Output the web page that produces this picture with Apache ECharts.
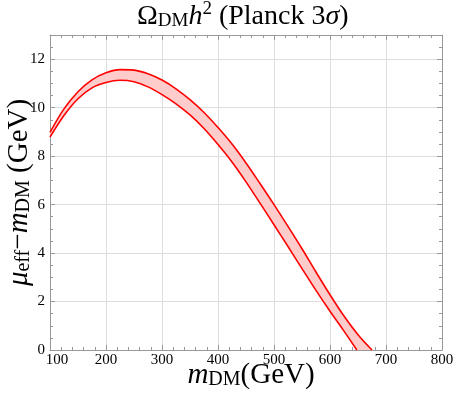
<!DOCTYPE html>
<html><head><meta charset="utf-8">
<script src="https://cdn.jsdelivr.net/npm/echarts@6/dist/echarts.min.js"></script>
<style>html,body{margin:0;padding:0;background:#fff}#c{width:463px;height:399px}</style>
</head><body><div id="c"></div>
<script>
// Upper boundary of the Planck 3σ band
const upperX = [100,125,150,175,200,225,250,275,300,325,350,375,400,425,450,475,500,525,550,575,600,625,650,675];
const upperY = [8.98,9.95,10.66,11.15,11.44,11.57,11.55,11.40,11.14,10.78,10.33,9.80,9.18,8.50,7.72,6.87,6.00,5.10,4.18,3.22,2.28,1.40,0.63,0];
// Lower boundary
const lowerX = [100,125,150,175,200,225,250,275,300,325,350,375,400,425,450,475,500,525,550,575,600,625,648];
const lowerY = [8.79,9.68,10.37,10.82,11.04,11.13,11.07,10.86,10.54,10.16,9.70,9.14,8.48,7.76,6.94,6.06,5.17,4.27,3.36,2.46,1.60,0.78,0];
const xRange = [100, 800];
const yRange = [0, 13];

const FONT = '"Liberation Serif","DejaVu Serif",serif';
const frame = '#999';
const tickStyle = {inside:true, length:5, lineStyle:{color:frame}};
const minorX = {show:true, splitNumber:5, length:3, lineStyle:{color:frame}};
const minorY = {show:true, splitNumber:4, length:3, lineStyle:{color:frame}};

function richSet(size){
  const sub = Math.round(size * 0.68);
  return {
    o:{fontFamily:FONT, fontSize:size, fontWeight:'normal', color:'#000', lineHeight:size+3, verticalAlign:'bottom'},
    i:{fontFamily:FONT, fontSize:size, fontWeight:'normal', fontStyle:'italic', color:'#000', lineHeight:size+3, verticalAlign:'bottom'},
    s:{fontFamily:FONT, fontSize:sub, fontWeight:'normal', color:'#000', lineHeight:sub-4, verticalAlign:'bottom'},
    p:{fontFamily:FONT, fontSize:sub, fontWeight:'normal', color:'#000', verticalAlign:'bottom', padding:[0,0,Math.round(size*0.42),0]}
  };
}

const chart = echarts.init(document.getElementById('c'), null, {renderer:'canvas'});
chart.setOption({
  animation:false,
  backgroundColor:'#fff',
  title:{
    text:'{o|Ω}{s|DM}{i|h}{p|2}{o| (Planck 3}{i|σ}{o|)}',
    left:137, top:0, padding:0,
    textStyle:{fontWeight:'normal', rich:richSet(28)}
  },
  grid:{left:50, right:21, top:35, bottom:49, containLabel:false, outerBoundsMode:'none'},
  xAxis:[{
    type:'value', min:xRange[0], max:xRange[1], interval:100, position:'bottom',
    axisLine:{show:true, onZero:false, lineStyle:{color:frame}},
    axisTick:tickStyle, minorTick:minorX,
    splitLine:{show:true, lineStyle:{color:'#ddd'}},
    axisLabel:{fontFamily:FONT, fontSize:15, color:'#000', margin:3,
      formatter:v => v === 100 ? '{f|100}' : String(v),
      rich:{f:{fontFamily:FONT, fontSize:15, color:'#000', padding:[0,0,0,14]}}},
    name:'{i|m}{s|DM}{o|(GeV)}', nameLocation:'middle', nameGap:8, nameMoveOverlap:false,
    nameTextStyle:{rich:richSet(29), padding:[0,0,0,10]}
  },{
    type:'value', min:xRange[0], max:xRange[1], interval:100, position:'top',
    axisLine:{show:true, onZero:false, lineStyle:{color:frame}},
    axisTick:tickStyle, minorTick:minorX,
    splitLine:{show:false}, axisLabel:{show:false}
  }],
  yAxis:[{
    type:'value', min:yRange[0], max:yRange[1], interval:2, position:'left',
    axisLine:{show:true, onZero:false, lineStyle:{color:frame}},
    axisTick:tickStyle, minorTick:minorY,
    splitLine:{show:true, lineStyle:{color:'#ddd'}},
    axisLabel:{fontFamily:FONT, fontSize:15, color:'#000', margin:5,
      formatter:v => v > 12 ? '' : String(v)},
    name:'{i|μ}{s|eff}{o|−}{i|m}{s|DM}{o| (GeV)}', nameLocation:'middle', nameGap:16, nameRotate:90, nameMoveOverlap:false,
    nameTextStyle:{rich:richSet(29)}
  },{
    type:'value', min:yRange[0], max:yRange[1], interval:2, position:'right',
    axisLine:{show:true, onZero:false, lineStyle:{color:frame}},
    axisTick:tickStyle, minorTick:minorY,
    splitLine:{show:false}, axisLabel:{show:false}
  }],
  series:[{
    type:'custom', coordinateSystem:'cartesian2d', xAxisIndex:0, yAxisIndex:0,
    clip:true, silent:true, z:1,
    data:[[upperX[0], upperY[0]]],
    renderItem:function(params, api){
      const pts = [];
      for (let k = 0; k < upperX.length; k++) pts.push(api.coord([upperX[k], upperY[k]]));
      for (let k = lowerX.length - 1; k >= 0; k--) pts.push(api.coord([lowerX[k], lowerY[k]]));
      return {type:'polygon', shape:{points:pts, smooth:0.25}, style:{fill:'#ffcccc', stroke:null}};
    }
  },{
    type:'line', xAxisIndex:0, yAxisIndex:0, z:3,
    data:upperX.map((x,k)=>[x, upperY[k]]),
    smooth:0.35, showSymbol:false, symbol:'none',
    lineStyle:{color:'#ff0000', width:1.6}
  },{
    type:'line', xAxisIndex:0, yAxisIndex:0, z:3,
    data:lowerX.map((x,k)=>[x, lowerY[k]]),
    smooth:0.35, showSymbol:false, symbol:'none',
    lineStyle:{color:'#ff0000', width:1.6}
  }]
});
</script>
</body></html>
